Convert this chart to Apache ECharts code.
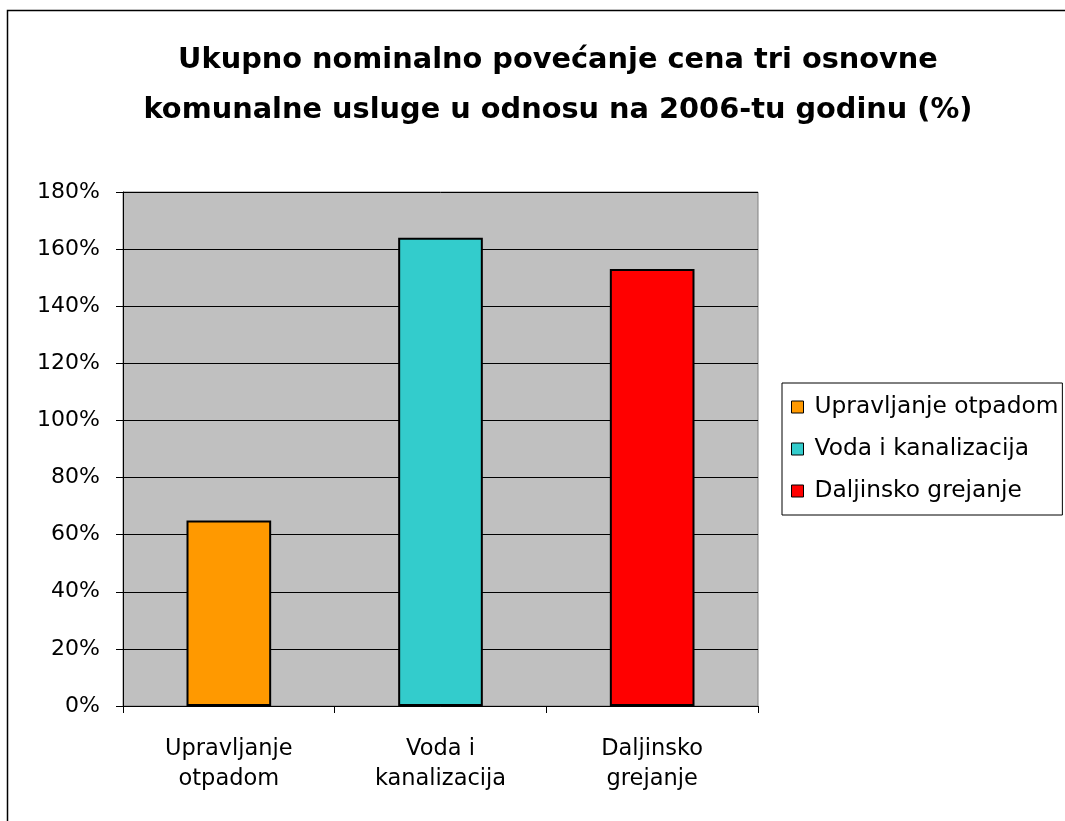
<!DOCTYPE html>
<html><head><meta charset="utf-8">
<script src="https://cdn.jsdelivr.net/npm/echarts@6/dist/echarts.min.js"></script>
<style>html,body{margin:0;padding:0;background:#fff}#c{width:1065px;height:821px}</style>
</head><body><div id="c"></div>
<script>
const categories = ['Upravljanje\notpadom', 'Voda i\nkanalizacija', 'Daljinsko\ngrejanje'];
const seriesNames = ['Upravljanje otpadom', 'Voda i kanalizacija', 'Daljinsko grejanje'];
const values = [65, 164, 153];
const colors = ['#FF9900', '#33CCCC', '#FF0000'];
const titleLines = 'Ukupno nominalno povećanje cena tri osnovne\nkomunalne usluge u odnosu na 2006-tu godinu (%)';

const font = '"DejaVu Sans", sans-serif';
const chart = echarts.init(document.getElementById('c'));
const series = seriesNames.map((name, i) => ({
  name,
  type: 'bar',
  barWidth: '40%',
  barGap: '-100%',
  data: values.map((v, j) => j === i ? v : '-'),
  itemStyle: { color: colors[i], borderColor: '#000', borderWidth: 2 },
  animation: false
}));
chart.setOption({
  animation: false,
  title: {
    text: titleLines,
    left: 553, top: 31, textAlign: 'center',
    textStyle: { fontFamily: font, fontSize: 28.8, fontWeight: 'bold', color: '#000', lineHeight: 50 }
  },
  graphic: [{
    type: 'rect', shape: { x: 7.5, y: 10.5, width: 1070, height: 830 },
    style: { fill: 'none', stroke: '#000', lineWidth: 1.5 }, z: -1
  }],
  grid: { left: 123, top: 192, width: 635, height: 514, show: true, backgroundColor: '#C0C0C0', borderColor: '#808080', borderWidth: 1 },
  legend: {
    orient: 'vertical', left: 782, top: 383,
    data: seriesNames,
    icon: 'rect', itemWidth: 12, itemHeight: 12, itemGap: 18,
    padding: [12, 4, 12, 9],
    borderColor: '#000', borderWidth: 1,
    itemStyle: { borderColor: '#000', borderWidth: 1 },
    textStyle: { fontFamily: font, fontSize: 23.3, color: '#000', lineHeight: 24, padding: [0, 0, 0, 6] }
  },
  xAxis: {
    type: 'category', data: categories,
    axisLine: { lineStyle: { color: '#000', width: 1 } },
    axisTick: { show: true, length: 7, lineStyle: { color: '#000' } },
    axisLabel: { fontFamily: font, fontSize: 22.5, color: '#000', lineHeight: 30, margin: 28 }
  },
  yAxis: {
    type: 'value', min: 0, max: 180, interval: 20,
    axisLine: { show: true, lineStyle: { color: '#000', width: 1 } },
    axisTick: { show: true, length: 7, lineStyle: { color: '#000' } },
    splitLine: { lineStyle: { color: '#000', width: 1 } },
    axisLabel: { formatter: '{value}%', fontFamily: font, fontSize: 22, color: '#000', margin: 23 }
  },
  series
});
</script></body></html>
